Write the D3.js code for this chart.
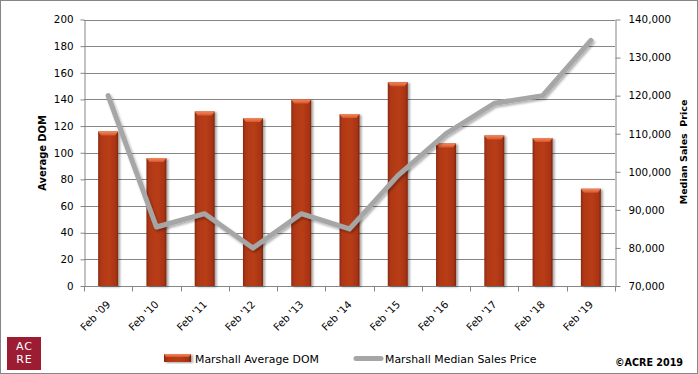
<!DOCTYPE html>
<html>
<head>
<meta charset="utf-8">
<script src="https://cdn.jsdelivr.net/npm/d3@7"></script>
<style>
  html, body { margin: 0; padding: 0; background: #fff; }
  svg { display: block; }
  text { font-family: "DejaVu Sans", Verdana, sans-serif; fill: #000; }
</style>
</head>
<body>
<svg id="chart" width="698" height="374"></svg>
<script>
// ---- data ----
const categories = ["Feb '09", "Feb '10", "Feb '11", "Feb '12", "Feb '13", "Feb '14", "Feb '15", "Feb '16", "Feb '17", "Feb '18", "Feb '19"];
const avgDom = [116, 96, 131, 126, 140, 129, 153, 107, 113, 111, 73];
const medianPrice = [120000, 85500, 89000, 80000, 89000, 85000, 99000, 110000, 118000, 120000, 134500];
const leftTicks = [0, 20, 40, 60, 80, 100, 120, 140, 160, 180, 200];
const rightTicks = [70000, 80000, 90000, 100000, 110000, 120000, 130000, 140000];
const barSeriesName = "Marshall Average DOM";
const lineSeriesName = "Marshall Median Sales Price";
const leftTitle = "Average DOM";
const rightTitle = "Median Sales  Price";
const credit = "\u00A9ACRE 2019";
const logoLines = ["AC", "RE"];

// ---- layout ----
const W = 698, H = 374;
const plot = { left: 84, right: 615, top: 19.5, bottom: 286 };
const gridColor = "#868686";

const svg = d3.select("#chart");
const defs = svg.append("defs");

// bar gradient
const bg = defs.append("linearGradient").attr("id", "barGrad").attr("x1", 0).attr("x2", 1).attr("y1", 0).attr("y2", 0);
bg.append("stop").attr("offset", "0%").attr("stop-color", "#8a2a10");
bg.append("stop").attr("offset", "15%").attr("stop-color", "#b03816");
bg.append("stop").attr("offset", "55%").attr("stop-color", "#b83d19");
bg.append("stop").attr("offset", "88%").attr("stop-color", "#a83414");
bg.append("stop").attr("offset", "100%").attr("stop-color", "#7e250d");
const cg = defs.append("linearGradient").attr("id", "capGrad").attr("x1", 0).attr("x2", 0).attr("y1", 0).attr("y2", 1);
cg.append("stop").attr("offset", "0%").attr("stop-color", "#f08a5e");
cg.append("stop").attr("offset", "100%").attr("stop-color", "#d9552b");
const sh = defs.append("filter").attr("id", "shadow").attr("x", "-30%").attr("y", "-10%").attr("width", "160%").attr("height", "130%");
sh.append("feDropShadow").attr("dx", 2).attr("dy", 1).attr("stdDeviation", 1.2).attr("flood-color", "#000").attr("flood-opacity", 0.35);
const lsh = defs.append("filter").attr("id", "lshadow").attr("x", "-10%").attr("y", "-10%").attr("width", "120%").attr("height", "130%");
lsh.append("feDropShadow").attr("dx", 1.5).attr("dy", 2).attr("stdDeviation", 1.3).attr("flood-color", "#000").attr("flood-opacity", 0.3);

// outer border
svg.append("rect").attr("x", 0.5).attr("y", 0.5).attr("width", W - 1).attr("height", H - 1)
  .attr("fill", "#fff").attr("stroke", gridColor).attr("stroke-width", 1);

// scales
const x = d3.scaleBand().domain(categories).range([plot.left, plot.right]).padding(0);
const yL = d3.scaleLinear().domain([0, 200]).range([plot.bottom, plot.top]);
const yR = d3.scaleLinear().domain([70000, 140000]).range([plot.bottom, plot.top]);

// gridlines
svg.append("g").selectAll("line").data(leftTicks.filter(d => d > 0)).join("line")
  .attr("x1", plot.left).attr("x2", plot.right)
  .attr("y1", d => Math.round(yL(d)) + 0.5).attr("y2", d => Math.round(yL(d)) + 0.5)
  .attr("stroke", gridColor).attr("stroke-width", 1);

// left axis
const gL = svg.append("g").attr("transform", `translate(${plot.left + 0.5},0)`)
  .call(d3.axisLeft(yL).tickValues(leftTicks).tickSize(4).tickSizeOuter(0).tickPadding(7));
gL.selectAll("path, line").attr("stroke", gridColor);
gL.selectAll("text").attr("font-size", "10.3px").attr("font-family", "DejaVu Sans").attr("fill", "#000");

// right axis
const gR = svg.append("g").attr("transform", `translate(${plot.right + 0.5},0)`)
  .call(d3.axisRight(yR).tickValues(rightTicks).tickSize(5).tickSizeOuter(0).tickPadding(8).tickFormat(d3.format(",")));
gR.selectAll("path, line").attr("stroke", gridColor);
gR.selectAll("text").attr("font-size", "10.3px").attr("font-family", "DejaVu Sans").attr("fill", "#000");

// bottom axis
const gB = svg.append("g").attr("transform", `translate(0,${plot.bottom + 0.5})`);
gB.append("line").attr("x1", plot.left).attr("x2", plot.right + 1).attr("stroke", gridColor);
const bounds = categories.map(c => x(c)).concat([x.range()[1]]);
gB.selectAll("line.tick").data(bounds).join("line").attr("class", "tick")
  .attr("x1", d => Math.round(d) + 0.5).attr("x2", d => Math.round(d) + 0.5)
  .attr("y1", 0).attr("y2", 5).attr("stroke", gridColor);
svg.append("g").selectAll("text").data(categories).join("text")
  .attr("transform", d => `translate(${x(d) + x.bandwidth() / 2 + 3},305) rotate(-45)`)
  .attr("text-anchor", "end").attr("font-size", "10.3px").text(d => d);

// bars
const barW = 20;
const bars = svg.append("g").attr("filter", "url(#shadow)");
bars.selectAll("rect.bar").data(categories.map((c, i) => ({ c, v: avgDom[i] }))).join("rect")
  .attr("class", "bar")
  .attr("x", d => x(d.c) + x.bandwidth() / 2 - barW / 2)
  .attr("y", d => yL(d.v))
  .attr("width", barW)
  .attr("height", d => plot.bottom - yL(d.v))
  .attr("fill", "url(#barGrad)");
bars.selectAll("path.cap").data(categories.map((c, i) => ({ c, v: avgDom[i] }))).join("path")
  .attr("class", "cap")
  .attr("d", d => {
    const x0 = x(d.c) + x.bandwidth() / 2 - barW / 2, y0 = yL(d.v);
    return `M${x0},${y0}H${x0 + barW}L${x0 + barW - 3},${y0 + 4}H${x0 + 3}Z`;
  })
  .attr("fill", "url(#capGrad)");

// line
const line = d3.line().x((d, i) => x(categories[i]) + x.bandwidth() / 2).y(d => yR(d));
svg.append("path").datum(medianPrice).attr("d", line)
  .attr("fill", "none").attr("stroke", "#a6a6a6").attr("stroke-width", 5)
  .attr("stroke-linejoin", "round").attr("stroke-linecap", "round").attr("filter", "url(#lshadow)");

// axis titles
svg.append("text").attr("transform", `translate(46,153) rotate(-90)`).attr("text-anchor", "middle")
  .attr("font-size", "9.9px").attr("font-weight", "bold").text(leftTitle);
svg.append("text").attr("transform", `translate(687,152) rotate(-90)`).attr("text-anchor", "middle")
  .attr("font-size", "9.5px").attr("font-weight", "bold").attr("xml:space", "preserve").style("white-space", "pre").text(rightTitle);

// legend
const lg = svg.append("g");
lg.append("rect").attr("x", 164).attr("y", 354).attr("width", 27).attr("height", 8).attr("fill", "url(#barGrad)").attr("filter", "url(#shadow)");
lg.append("path").attr("d", "M164,354H191L189,357H166Z").attr("fill", "url(#capGrad)");
lg.append("text").attr("x", 195).attr("y", 362.5).attr("font-family", "Liberation Sans").attr("font-size", "10.9px").text(barSeriesName);
lg.append("line").attr("x1", 356).attr("x2", 381).attr("y1", 358.5).attr("y2", 358.5)
  .attr("stroke", "#a6a6a6").attr("stroke-width", 5).attr("stroke-linecap", "round");
lg.append("text").attr("x", 385).attr("y", 362.5).attr("font-family", "Liberation Sans").attr("font-size", "10.9px").text(lineSeriesName);

// credit
svg.append("text").attr("x", 615).attr("y", 366).attr("font-size", "9.6px").attr("font-weight", "bold").text(credit);

// logo
const logo = svg.append("g");
logo.append("rect").attr("x", 7).attr("y", 337).attr("width", 34).attr("height", 33).attr("fill", "#9b1c33");
logo.selectAll("text").data(logoLines).join("text")
  .attr("x", 24.5).attr("y", (d, i) => 350 + i * 13)
  .attr("text-anchor", "middle").style("fill", "#fff")
  .attr("font-family", "DejaVu Sans").attr("font-size", "11px").attr("letter-spacing", "1px").text(d => d);
</script>
</body>
</html>
